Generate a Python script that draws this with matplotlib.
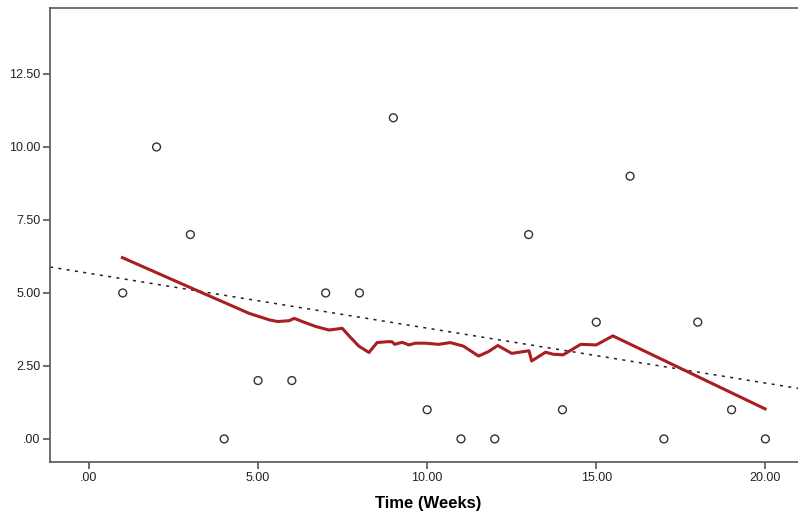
import numpy as np
import matplotlib.pyplot as plt
from matplotlib.ticker import FuncFormatter

plt.rcParams["font.family"] = ["Liberation Sans Narrow", "Liberation Sans", "DejaVu Sans"]

# observed values
weeks = [1, 2, 3, 4, 5, 6, 7, 8, 9, 10, 11, 12, 13, 14, 15, 16, 17, 18, 19, 20]
values = [5, 10, 7, 0, 2, 2, 5, 5, 11, 1, 0, 0, 7, 1, 4, 9, 0, 4, 1, 0]

# loess curve
loess_x = [0.99, 3.32, 4.74, 5.33, 5.58, 5.92, 6.07, 6.31, 6.71, 7.10, 7.49, 7.69,
           7.98, 8.28, 8.52, 8.82, 8.96, 9.04, 9.26, 9.46, 9.65, 9.95, 10.34, 10.68,
           11.07, 11.52, 11.81, 12.09, 12.50, 13.01, 13.09, 13.50, 13.73, 14.02,
           14.54, 15.00, 15.49, 19.99]
loess_y = [6.21, 5.02, 4.30, 4.08, 4.02, 4.05, 4.13, 4.02, 3.85, 3.73, 3.79, 3.53,
           3.18, 2.96, 3.30, 3.33, 3.33, 3.24, 3.31, 3.22, 3.28, 3.28, 3.24, 3.30,
           3.18, 2.84, 2.99, 3.20, 2.93, 3.02, 2.67, 2.97, 2.90, 2.88,
           3.24, 3.22, 3.53, 1.03]

x_ticks = [0, 5, 10, 15, 20]
y_ticks = [0, 2.5, 5, 7.5, 10, 12.5]

fig = plt.figure(figsize=(7.98, 5.17), dpi=100)
ax = fig.add_axes([50 / 798, 1 - 462 / 517, 1 - 50 / 798 + 0.01, (462 - 8) / 517])

xlim = (-1.15, 21.2)
ax.set_xlim(xlim)
ax.set_ylim(-0.79, 14.76)

# linear fit
slope, intercept = np.polyfit(weeks, values, 1)
fx = np.array(xlim)
ax.plot(fx, intercept + slope * fx, color="#222222", lw=1.1,
        linestyle=(0, (2, 3.5)), zorder=2)

ax.plot(loess_x, loess_y, color="#A91E22", lw=2.2, zorder=3,
        solid_joinstyle="round")

ax.scatter(weeks, values, s=32, facecolors="none", edgecolors="#333333",
           linewidths=1.0, zorder=4)

fmt = FuncFormatter(lambda v, p: f"{v:.2f}".lstrip("0") if abs(v) < 1 else f"{v:.2f}")
ax.xaxis.set_major_formatter(fmt)
ax.yaxis.set_major_formatter(fmt)
ax.set_xticks(x_ticks)
ax.set_yticks(y_ticks)

for s in ["left", "bottom", "top"]:
    ax.spines[s].set_color("#555555")
    ax.spines[s].set_linewidth(1.2)
ax.spines["right"].set_visible(False)
ax.tick_params(axis="both", direction="out", length=5, width=1.2,
               color="#555555", labelsize=9, labelcolor="#222222", pad=2)

ax.set_xlabel("Time (Weeks)", fontsize=12, fontweight="bold", labelpad=9)

fig.savefig("out.png", dpi=100)
